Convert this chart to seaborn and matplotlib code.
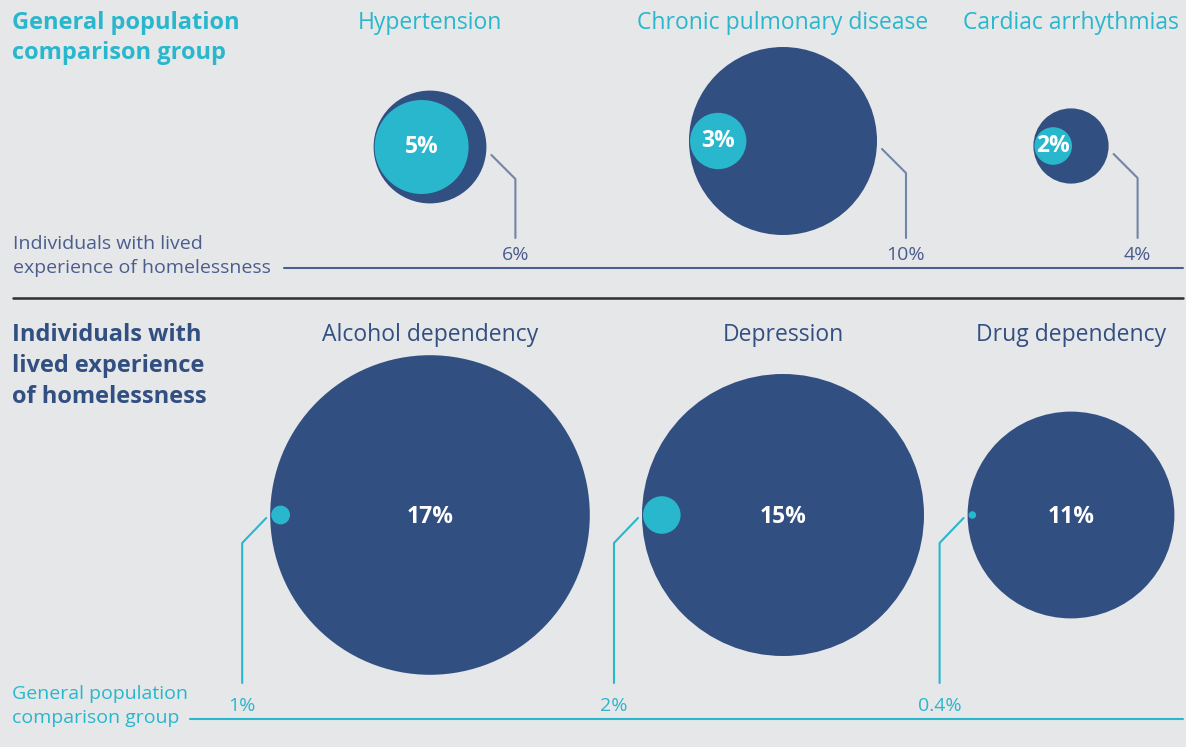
import matplotlib
matplotlib.use("Agg")
import matplotlib.pyplot as plt
import seaborn as sns
from matplotlib.patches import Circle

# Data (percent of each group)
top_conditions = ["Hypertension", "Chronic pulmonary disease", "Cardiac arrhythmias"]
top_homeless = [6, 10, 4]
top_general = [5, 3, 2]

bottom_conditions = ["Alcohol dependency", "Depression", "Drug dependency"]
bottom_homeless = [17, 15, 11]
bottom_general = [1, 2, 0.4]

# Colours
NAVY = "#324f81"
CYAN = "#28b7cc"
BG = "#e6e7e9"
LEADER = "#7384a6"

# Layout (pixel coordinates, y going down)
col_x = [430, 783, 1071]
top_cy = [147, 141, 146]
bottom_cy = 515
px_per_pct = 9.4

sns.set_theme(style="white")
plt.rcParams["font.family"] = ["Open Sans", "DejaVu Sans"]


def fmt(v):
    return f"{v:g}%"


def draw_row(ax, conditions, big_vals, small_vals, cys, label_color, big_is_homeless):
    for name, big, small, cx, cy in zip(conditions, big_vals, small_vals, col_x, cys):
        r_big = big * px_per_pct
        r_small = small * px_per_pct
        ax.add_patch(Circle((cx, cy), r_big, color=NAVY, lw=0, zorder=2))
        left = cx - r_big
        ax.add_patch(Circle((left + r_small + 1, cy), r_small, color=CYAN, lw=0, zorder=3))
        if big_is_homeless:
            # top row: cyan value inside the cyan circle, navy value on a leader
            ax.text(left + r_small + 1, cy, fmt(small), color="white", fontsize=16.5,
                    fontweight="bold", ha="center", va="center", zorder=4)
            x0, y0 = cx + r_big + 5, cy + 8
            x1, y1 = cx + r_big + 29, cy + 32
            ax.plot([x0, x1, x1], [y0, y1, 238], color=LEADER, lw=1.5, zorder=1)
            ax.text(x1, 255, fmt(big), color="#4a5d8c", fontsize=14,
                    ha="center", va="center")
            ax.text(cx, 23, name, color=label_color, fontsize=16.5,
                    ha="center", va="center")
        else:
            ax.text(cx, cy + 2, fmt(big), color="white", fontsize=16.5,
                    fontweight="bold", ha="center", va="center", zorder=4)
            x0, y0 = left - 4, cy + 3
            x1, y1 = left - 28, cy + 28
            ax.plot([x0, x1, x1], [y0, y1, 683], color=CYAN, lw=1.5, zorder=1)
            ax.text(x1, 706, fmt(small), color=CYAN, fontsize=14,
                    ha="center", va="center")
            ax.text(cx, 335, name, color=label_color, fontsize=16.5,
                    ha="center", va="center")


fig = plt.figure(figsize=(11.86, 7.47), dpi=100)
fig.patch.set_facecolor(BG)
ax = fig.add_axes([0, 0, 1, 1])
ax.set_facecolor(BG)
ax.set_xlim(0, 1186)
ax.set_ylim(747, 0)
ax.axis("off")

# Top panel
ax.text(12, 38, "General population\ncomparison group", color=CYAN, fontsize=17,
        fontweight="bold", ha="left", va="center", linespacing=1.37)
draw_row(ax, top_conditions, top_homeless, top_general, top_cy, CYAN, True)
ax.text(13, 256, "Individuals with lived\nexperience of homelessness", color="#4a5d8c",
        fontsize=14, ha="left", va="center", linespacing=1.36)
ax.plot([284, 1183], [268, 268], color="#4a6190", lw=1.5)

# Separator
ax.plot([13, 1183], [298, 298], color="#2e2e2e", lw=1.8)

# Bottom panel
ax.text(12, 366, "Individuals with\nlived experience\nof homelessness", color=NAVY,
        fontsize=17, fontweight="bold", ha="left", va="center", linespacing=1.37)
draw_row(ax, bottom_conditions, bottom_homeless, bottom_general,
         [bottom_cy] * 3, NAVY, False)
ax.text(12, 706, "General population\ncomparison group", color=CYAN,
        fontsize=14, ha="left", va="center", linespacing=1.44)
ax.plot([190, 1183], [719, 719], color=CYAN, lw=1.5)

fig.savefig("out.png", dpi=100, facecolor=BG)
